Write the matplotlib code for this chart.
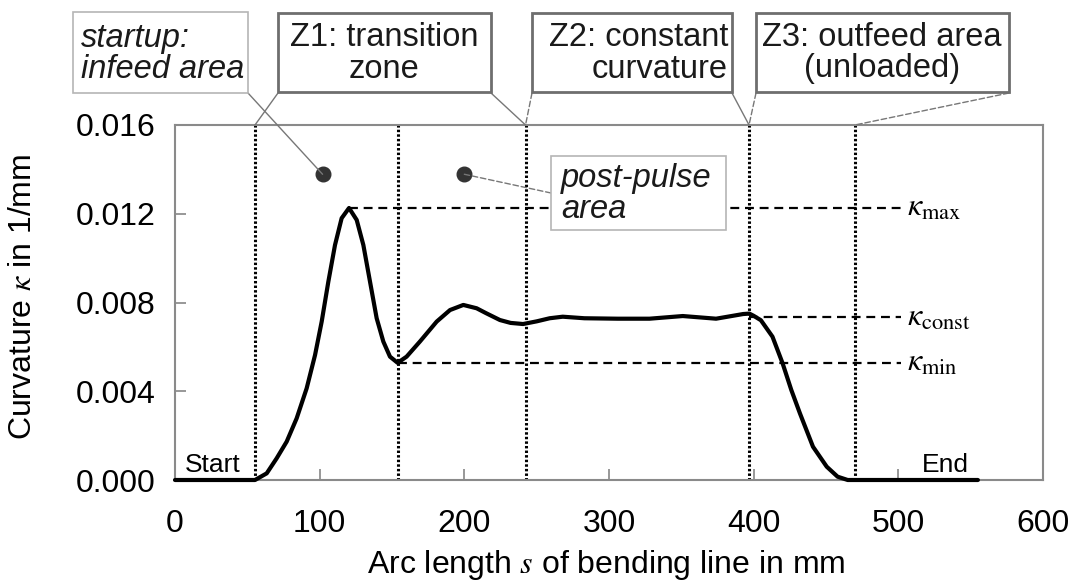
import matplotlib
matplotlib.use("Agg")
import matplotlib.pyplot as plt
from matplotlib.patches import Rectangle, ConnectionPatch

plt.rcParams['font.family'] = ['Liberation Sans', 'DejaVu Sans']
plt.rcParams['mathtext.fontset'] = 'stix'

# curvature along the bending line
arc_s = [0, 55.3, 63.4, 70.3, 77.2, 84.1, 91.0, 96.8, 101.4, 106.0, 110.6, 115.2,
         120.3, 125.6, 130.2, 134.8, 139.4, 144.0, 148.6, 153.9, 160.1, 169.3,
         180.9, 190.1, 199.3, 208.5, 215.0, 224.6, 232.0, 240.6, 250.0, 259.0,
         268.0, 283.0, 306.0, 328.0, 351.0, 374.0, 392.7, 397.0, 400.0, 405.0,
         413.0, 420.0, 426.0, 432.0, 441.0, 450.5, 458.0, 465.0, 555.0]
kappa = [0, 0, 0.0003, 0.00098, 0.00173, 0.00278, 0.00413, 0.00563, 0.00714,
         0.00894, 0.01059, 0.01180, 0.01226, 0.01172, 0.01059, 0.00894, 0.00729,
         0.00624, 0.00556, 0.00528, 0.00556, 0.00624, 0.00714, 0.00766, 0.00789,
         0.00774, 0.00752, 0.00721, 0.00708, 0.00703, 0.00715, 0.00729, 0.00736,
         0.00729, 0.00727, 0.00727, 0.00739, 0.00727, 0.00748, 0.0075, 0.0074,
         0.0072, 0.00646, 0.00526, 0.00406, 0.0030, 0.0015, 0.0006, 0.00015, 0, 0]

zone_bounds = [55.3, 154.4, 242.3, 396.8, 470.0]
kappa_levels = {'max': (0.01228, 120.3), 'const': (0.00733, 397.0), 'min': (0.00526, 153.9)}
level_end = 502
dots_s = [102, 200]
dots_k = [0.01378, 0.01378]

W, H = 1073, 582
fig = plt.figure(figsize=(W / 100, H / 100), dpi=100)


def fp(x, y):
    return (x / W, 1 - y / H)


ax = fig.add_axes([175 / W, 1 - 480 / H, 868 / W, 355 / H])
ax.set_xlim(0, 600)
ax.set_ylim(0, 0.016)
ax.set_xticks(range(0, 601, 100))
ax.set_yticks([0, 0.004, 0.008, 0.012, 0.016])
ax.set_yticklabels(['0.000', '0.004', '0.008', '0.012', '0.016'])
ax.tick_params(direction='in', length=8, width=1.3, color='#909090', labelsize=23)
ax.tick_params(axis='x', pad=21)
ax.tick_params(axis='y', pad=14)
for sp in ax.spines.values():
    sp.set_color('#8a8a8a')
    sp.set_linewidth(1.5)

for s in zone_bounds:
    ax.plot([s, s], [0, 0.016], color='black', lw=2.2, linestyle=(0, (0.8, 0.7)))

for name, (k, s0) in kappa_levels.items():
    ax.plot([s0, level_end], [k, k], color='black', lw=1.6, linestyle=(0, (4, 2.6)))
    ax.text(level_end + 4, k, r'$\kappa_{\mathrm{%s}}$' % name, fontsize=23,
            va='center', ha='left')

ax.plot(arc_s, kappa, color='black', lw=3.0, solid_joinstyle='round',
        solid_capstyle='round', clip_on=False, zorder=3)
ax.plot(dots_s, dots_k, 'o', color='#333333', ms=10.5, zorder=3)

ax.text(7, 0.00037, 'Start', fontsize=19, va='baseline')
ax.text(516, 0.00037, 'End', fontsize=19, va='baseline')

fig.text(*fp(23, 297), r'Curvature $\kappa$ in 1/mm', rotation=90, fontsize=23,
         ha='center', va='center')
fig.text(*fp(606, 565), r'Arc length $s$ of bending line in mm', fontsize=23,
         ha='center', va='center')

# annotation boxes (pixel layout)
boxes = [
    ((73, 12, 248, 93), '#b5b5b5', 1.2, 'startup:\ninfeed area', 'italic', 'left', 81),
    ((278, 13, 491, 92), '#6e6e6e', 2.0, 'Z1: transition\nzone', 'normal', 'center', 384),
    ((532, 13, 732, 92), '#6e6e6e', 2.0, 'Z2: constant\ncurvature', 'normal', 'right', 728),
    ((756, 13, 1009, 92), '#6e6e6e', 2.0, 'Z3: outfeed area\n(unloaded)', 'normal', 'center', 882),
    ((551, 156, 726, 230), '#b5b5b5', 1.2, 'post-pulse\narea', 'italic', 'left', 561),
]
for (x0, y0, x1, y1), ec, lw, txt, st, ha, tx in boxes:
    fig.add_artist(Rectangle(fp(x0, y1), (x1 - x0) / W, (y1 - y0) / H,
                             transform=fig.transFigure, facecolor='white',
                             edgecolor=ec, lw=lw, zorder=5))
    fig.text(*fp(tx, (y0 + y1) / 2 + 1), txt, fontsize=23.5, style=st, ha=ha,
             va='center', multialignment=ha, linespacing=1.0, zorder=6,
             color='#1a1a1a')

top = ax.get_xaxis_transform()
leaders = [
    ((248, 93), (dots_s[0], dots_k[0]), ax.transData, '-'),
    ((278, 93), (zone_bounds[0], 1), top, '-'),
    ((491, 93), (zone_bounds[2], 1), top, '-'),
    ((532, 93), (zone_bounds[2], 1), top, '--'),
    ((732, 93), (zone_bounds[3], 1), top, '-'),
    ((756, 93), (zone_bounds[3], 1), top, '--'),
    ((1009, 93), (zone_bounds[4], 1), top, '--'),
    ((551, 193), (dots_s[1], dots_k[1]), ax.transData, '--'),
]
for pA, pB, trB, ls in leaders:
    fig.add_artist(ConnectionPatch(fp(*pA), pB, coordsA=fig.transFigure, coordsB=trB,
                                   color='#777777', lw=1.0,
                                   linestyle=ls if ls == '-' else (0, (4, 2)),
                                   zorder=4))

fig.savefig('out.png', dpi=100)
